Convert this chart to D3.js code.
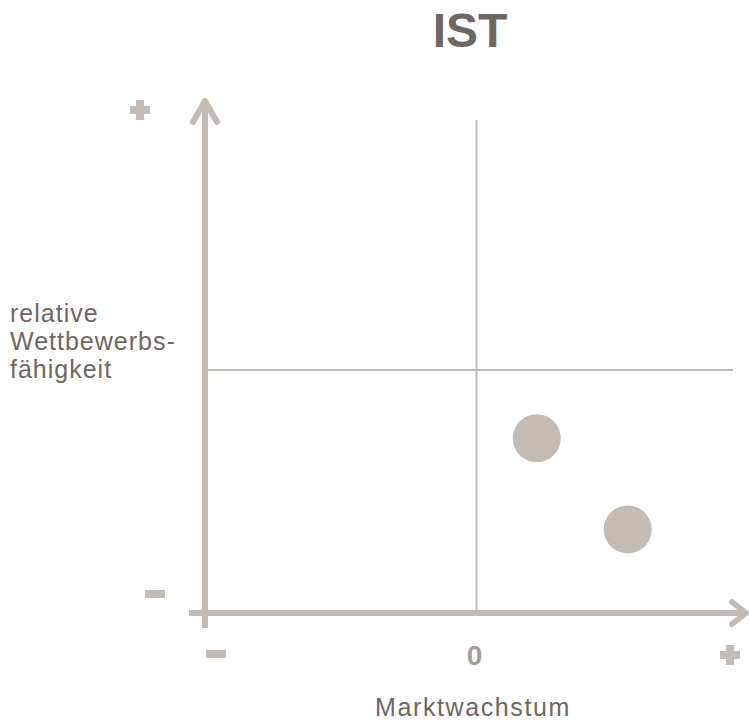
<!DOCTYPE html>
<html>
<head>
<meta charset="utf-8">
<script src="https://cdn.jsdelivr.net/npm/d3@7"></script>
<style>
  html, body { margin: 0; padding: 0; background: #ffffff; }
  svg { display: block; }
  text { font-family: Arial, "Liberation Sans", Helvetica, sans-serif; }
</style>
</head>
<body>
<svg id="chart" width="749" height="723"></svg>
<script>
// ---- data ----
const title = "IST";
const xAxisTitle = "Marktwachstum";
const yAxisTitleLines = ["relative", "Wettbewerbs-", "fähigkeit"];
const centerLabel = "0";
const pointNames = ["A", "B"];
const pointX = [0.222, 0.557];
const pointY = [-0.281, -0.656];

// ---- styles ----
const markColor = "#c4bcb4";
const textColor = "#6d6763";
const labelGray = "#a19d99";

const svg = d3.select("#chart");

const x = d3.scaleLinear().domain([-1, 1]).range([205, 748]);
const y = d3.scaleLinear().domain([-1, 1]).range([613, 127]);

// title
svg.append("text")
  .attr("x", 470).attr("y", 47)
  .attr("text-anchor", "middle")
  .attr("font-size", 48).attr("font-weight", "bold")
  .attr("fill", textColor)
  .text(title);

// quadrant thin lines
svg.append("line")
  .attr("x1", x(0)).attr("x2", x(0))
  .attr("y1", 120).attr("y2", y(-1))
  .attr("stroke", markColor).attr("stroke-width", 2);
svg.append("line")
  .attr("x1", x(-1)).attr("x2", 733)
  .attr("y1", y(0)).attr("y2", y(0))
  .attr("stroke", markColor).attr("stroke-width", 2);

// thick axes
const axisG = svg.append("g")
  .attr("stroke", markColor).attr("stroke-width", 6).attr("fill", "none");
axisG.append("line")
  .attr("x1", x(-1)).attr("x2", x(-1))
  .attr("y1", 628).attr("y2", 101);
axisG.append("polyline")
  .attr("points", [[x(-1) - 12, 122], [x(-1), 101], [x(-1) + 12, 122]].map(p => p.join(",")).join(" "))
  .attr("stroke-linecap", "round").attr("stroke-linejoin", "round");
axisG.append("line")
  .attr("x1", 189).attr("x2", 746)
  .attr("y1", y(-1)).attr("y2", y(-1));
axisG.append("polyline")
  .attr("points", [[732, y(-1) - 11], [746, y(-1)], [732, y(-1) + 11]].map(p => p.join(",")).join(" "))
  .attr("stroke-linecap", "round").attr("stroke-linejoin", "round");

// plus / minus signs
function plus(cx, cy) {
  svg.append("rect").attr("x", cx - 10).attr("y", cy - 4).attr("width", 20).attr("height", 8).attr("fill", markColor);
  svg.append("rect").attr("x", cx - 4).attr("y", cy - 10).attr("width", 8).attr("height", 20).attr("fill", markColor);
}
function minus(cx, cy) {
  svg.append("rect").attr("x", cx - 10).attr("y", cy - 4).attr("width", 20).attr("height", 8).attr("fill", markColor);
}
plus(140, 110);
minus(155, 594);
minus(216, 654);
plus(730, 655);

// center label
svg.append("text")
  .attr("x", x(0) - 2).attr("y", 665)
  .attr("text-anchor", "middle")
  .attr("font-size", 28).attr("font-weight", "bold")
  .attr("fill", labelGray)
  .text(centerLabel);

// axis titles
svg.append("text")
  .attr("x", 473).attr("y", 716)
  .attr("text-anchor", "middle")
  .attr("font-size", 25).attr("letter-spacing", 1.6)
  .attr("fill", textColor)
  .text(xAxisTitle);

const yt = svg.append("text")
  .attr("font-size", 25).attr("letter-spacing", 1)
  .attr("fill", textColor);
yAxisTitleLines.forEach((t, i) => {
  yt.append("tspan").attr("x", 10).attr("y", 322 + i * 28).text(t);
});

// points
svg.selectAll("circle.pt")
  .data(pointNames.map((n, i) => ({ n, x: pointX[i], y: pointY[i] })))
  .join("circle")
  .attr("class", "pt")
  .attr("cx", d => x(d.x))
  .attr("cy", d => y(d.y))
  .attr("r", 24)
  .attr("fill", markColor);
</script>
</body>
</html>
